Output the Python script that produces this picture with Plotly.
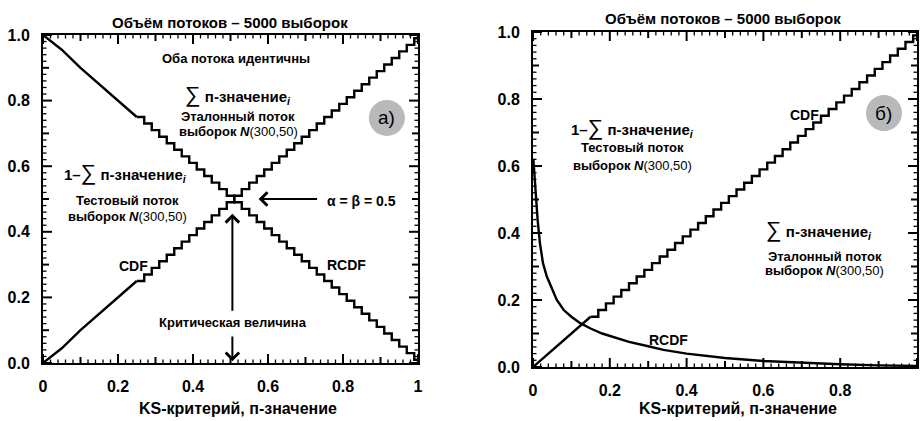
import plotly.graph_objects as go

# ---------------- data ----------------
cdf_a_smooth_x = [0.0, 0.05, 0.10, 0.15, 0.20, 0.25]
cdf_a_smooth_y = [0.0, 0.045, 0.10, 0.15, 0.20, 0.25]
cdf_a_step_x = [0.25, 0.27, 0.29, 0.31, 0.33, 0.35, 0.37, 0.39, 0.41, 0.43, 0.45, 0.47, 0.49,
                0.51, 0.53, 0.55, 0.57, 0.59, 0.61, 0.63, 0.65, 0.67, 0.69, 0.71, 0.73, 0.75,
                0.77, 0.79, 0.81, 0.83, 0.85, 0.87, 0.89, 0.91, 0.93, 0.95, 0.97, 0.99, 1.0]
cdf_a_step_y = [0.25, 0.27, 0.29, 0.31, 0.33, 0.35, 0.37, 0.39, 0.41, 0.43, 0.45, 0.47, 0.49,
                0.51, 0.53, 0.55, 0.57, 0.59, 0.61, 0.63, 0.65, 0.67, 0.69, 0.71, 0.73, 0.75,
                0.77, 0.79, 0.81, 0.83, 0.85, 0.87, 0.89, 0.91, 0.93, 0.95, 0.97, 0.99, 1.0]
rcdf_a_smooth_x = [0.0, 0.05, 0.10, 0.15, 0.20, 0.25]
rcdf_a_smooth_y = [1.0, 0.955, 0.90, 0.85, 0.80, 0.75]
rcdf_a_step_x = [0.25, 0.27, 0.29, 0.31, 0.33, 0.35, 0.37, 0.39, 0.41, 0.43, 0.45, 0.47, 0.49,
                 0.51, 0.53, 0.55, 0.57, 0.59, 0.61, 0.63, 0.65, 0.67, 0.69, 0.71, 0.73, 0.75,
                 0.77, 0.79, 0.81, 0.83, 0.85, 0.87, 0.89, 0.91, 0.93, 0.95, 0.97, 0.99, 1.0]
rcdf_a_step_y = [0.75, 0.73, 0.71, 0.69, 0.67, 0.65, 0.63, 0.61, 0.59, 0.57, 0.55, 0.53, 0.51,
                 0.49, 0.47, 0.45, 0.43, 0.41, 0.39, 0.37, 0.35, 0.33, 0.31, 0.29, 0.27, 0.25,
                 0.23, 0.21, 0.19, 0.17, 0.15, 0.13, 0.11, 0.09, 0.07, 0.05, 0.03, 0.01, 0.0]
cdf_b_smooth_x = [0.0, 0.05, 0.10, 0.15]
cdf_b_smooth_y = [0.0, 0.05, 0.10, 0.15]
cdf_b_step_x = [0.15, 0.17, 0.19, 0.21, 0.23, 0.25, 0.27, 0.29, 0.31, 0.33, 0.35, 0.37, 0.39,
                0.41, 0.43, 0.45, 0.47, 0.49, 0.51, 0.53, 0.55, 0.57, 0.59, 0.61, 0.63, 0.65,
                0.67, 0.69, 0.71, 0.73, 0.75, 0.77, 0.79, 0.81, 0.83, 0.85, 0.87, 0.89, 0.91,
                0.93, 0.95, 0.97, 0.99, 1.0]
cdf_b_step_y = [0.15, 0.17, 0.19, 0.21, 0.23, 0.25, 0.27, 0.29, 0.31, 0.33, 0.35, 0.37, 0.39,
                0.41, 0.43, 0.45, 0.47, 0.49, 0.51, 0.53, 0.55, 0.57, 0.59, 0.61, 0.63, 0.65,
                0.67, 0.69, 0.71, 0.73, 0.75, 0.77, 0.79, 0.81, 0.83, 0.85, 0.87, 0.89, 0.91,
                0.93, 0.95, 0.97, 0.99, 1.0]
rcdf_b_x = [0.001, 0.004, 0.008, 0.012, 0.018, 0.026, 0.036, 0.05, 0.062, 0.08, 0.10, 0.123,
            0.15, 0.18, 0.21, 0.25, 0.30, 0.34, 0.40, 0.45, 0.50, 0.60, 0.70, 0.80, 0.90, 1.0]
rcdf_b_y = [0.62, 0.56, 0.50, 0.44, 0.37, 0.31, 0.27, 0.23, 0.20, 0.17, 0.15, 0.131,
            0.115, 0.10, 0.09, 0.075, 0.062, 0.051, 0.040, 0.033, 0.027, 0.018, 0.012, 0.008,
            0.005, 0.003]

x_tick_vals = [0, 0.2, 0.4, 0.6, 0.8, 1.0]
x_tick_text = ["0", "0.2", "0.4", "0.6", "0.8", "1"]
y_tick_vals = [0, 0.2, 0.4, 0.6, 0.8, 1.0]
y_tick_text = ["0.0", "0.2", "0.4", "0.6", "0.8", "1.0"]

panel_title = "Объём потоков – 5000 выборок"
x_title = "KS-критерий, п-значение"

# ---------------- figure ----------------
FONT = "Liberation Sans, Arial, Helvetica, sans-serif"
LW = 2.4
fig = go.Figure()

def line(x, y, xa, ya, shape="linear", width=LW):
    fig.add_trace(go.Scatter(x=x, y=y, mode="lines", xaxis=xa, yaxis=ya,
                             line=dict(color="black", width=width, shape=shape),
                             showlegend=False, hoverinfo="skip", connectgaps=False))

line(cdf_a_smooth_x, cdf_a_smooth_y, "x", "y")
line(cdf_a_step_x, cdf_a_step_y, "x", "y", "hv")
line(rcdf_a_smooth_x, rcdf_a_smooth_y, "x", "y")
line(rcdf_a_step_x, rcdf_a_step_y, "x", "y", "hv")
line(cdf_b_smooth_x, cdf_b_smooth_y, "x2", "y2")
line(cdf_b_step_x, cdf_b_step_y, "x2", "y2", "hv")
line(rcdf_b_x, rcdf_b_y, "x2", "y2")

# panel geometry in pixels
PA = dict(x0=43, x1=418, ytop=35, ybot=363)
PB = dict(x0=533, x1=917, ytop=32, ybot=367)
xdom_a = [PA["x0"] / 920, PA["x1"] / 920]
ydom_a = [1 - PA["ybot"] / 421, 1 - PA["ytop"] / 421]
xdom_b = [PB["x0"] / 920, PB["x1"] / 920]
ydom_b = [1 - PB["ybot"] / 421, 1 - PB["ytop"] / 421]

# ---- tick marks (inside, all four sides) drawn as line segments ----
tick_positions = [i / 50 for i in range(51)]

def tick_len(i):
    if i % 10 == 0:
        return 9
    if i % 5 == 0:
        return 6
    return 3.5

def add_ticks(P, xa, ya):
    xpx = P["x1"] - P["x0"]
    ypx = P["ybot"] - P["ytop"]
    for major in (True, False):
        xs, ys = [], []
        for i, v in enumerate(tick_positions):
            is_major = (i % 5 == 0)
            if is_major != major:
                continue
            L = tick_len(i)
            dy = L / ypx
            dx = L / xpx
            xs += [v, v, None, v, v, None, 0, dx, None, 1 - dx, 1, None]
            ys += [0, dy, None, 1 - dy, 1, None, v, v, None, v, v, None]
        line(xs, ys, xa, ya, width=2 if major else 1.3)

add_ticks(PA, "x", "y")
add_ticks(PB, "x2", "y2")

def main_axis(dom, anchor, vals, text, standoff):
    return dict(domain=dom, anchor=anchor, range=[0, 1], showgrid=False, zeroline=False,
                automargin=False, showline=True, linecolor="black", linewidth=2,
                mirror=True, ticks="", tickvals=vals, ticktext=text,
                ticklabelstandoff=standoff,
                tickfont=dict(family=FONT, size=16, color="black", weight="bold"),
                fixedrange=True)

fig.update_layout(
    width=920, height=421, margin=dict(l=0, r=0, t=0, b=0),
    paper_bgcolor="white", plot_bgcolor="white", showlegend=False,
    xaxis=main_axis(xdom_a, "y", x_tick_vals, x_tick_text, 8),
    yaxis=main_axis(ydom_a, "x", y_tick_vals, y_tick_text, 8),
    xaxis2=main_axis(xdom_b, "y2", x_tick_vals, x_tick_text, 8),
    yaxis2=main_axis(ydom_b, "x2", y_tick_vals, y_tick_text, 8),
)

shapes = []
for xr, yr, cx, cy in [("x", "y", 0.917, 0.747), ("x2", "y2", 0.914, 0.758)]:
    shapes.append(dict(type="circle", xref=xr, yref=yr, xsizemode="pixel", ysizemode="pixel",
                       xanchor=cx, yanchor=cy, x0=-18, x1=18, y0=-18, y1=18,
                       fillcolor="#b9b9b9", line=dict(width=0), layer="below"))

ann = []
def txt(x, y, text, size=13, xref="x", yref="y", bold=True, xanchor="center"):
    ann.append(dict(x=x, y=y, xref=xref, yref=yref, text=text, showarrow=False,
                    xanchor=xanchor, yanchor="middle",
                    font=dict(family=FONT, size=size, color="black",
                              weight="bold" if bold else "normal")))

SIG = "<span style='font-size:22px;font-weight:normal'>∑</span>"
SUB = "<sub><i>i</i></sub>"
NN = "<i>N</i><span style='font-weight:normal'>(300,50)</span>"

txt(0.25, 1 - 23 / 421, panel_title, 15, "paper", "paper")
txt(0.786, 1 - 18 / 421, panel_title, 15, "paper", "paper")
txt(0.259, 1 - 408 / 421, x_title, 16, "paper", "paper")
txt(0.802, 1 - 408 / 421, x_title, 16, "paper", "paper")

txt(0.515, 0.927, "Оба потока идентичны", 13)
txt(0.52, 0.82, SIG + " п-значение" + SUB, 15)
txt(0.52, 0.752, "Эталонный поток", 13)
txt(0.52, 0.707, "выборок " + NN, 13)
txt(0.22, 0.58, "1–" + SIG + " п-значение" + SUB, 15)
txt(0.225, 0.494, "Тестовый поток", 13)
txt(0.225, 0.448, "выборок " + NN, 13)
txt(0.85, 0.494, "α = β = 0.5", 14)
txt(0.24, 0.296, "CDF", 14)
txt(0.81, 0.30, "RCDF", 14)
txt(0.507, 0.122, "Критическая величина", 13)
txt(0.917, 0.747, "а)", 19, bold=False)

txt(0.26, 0.715, "1–" + SIG + " п-значение" + SUB, 15, "x2", "y2")
txt(0.26, 0.654, "Тестовый поток", 13, "x2", "y2")
txt(0.26, 0.603, "выборок " + NN, 13, "x2", "y2")
txt(0.706, 0.752, "CDF", 14, "x2", "y2")
txt(0.746, 0.41, SIG + " п-значение" + SUB, 15, "x2", "y2")
txt(0.76, 0.331, "Эталонный поток", 13, "x2", "y2")
txt(0.76, 0.287, "выборок " + NN, 13, "x2", "y2")
txt(0.353, 0.08, "RCDF", 14, "x2", "y2")
txt(0.914, 0.758, "б)", 19, "x2", "y2", bold=False)

def arrow(x, y, ax, ay):
    ann.append(dict(x=x, y=y, ax=ax, ay=ay, xref="x", yref="y", axref="x", ayref="y",
                    text="", showarrow=True, arrowhead=4, arrowsize=1.3, arrowwidth=2,
                    arrowcolor="black"))

arrow(0.575, 0.5, 0.735, 0.5)
arrow(0.505, 0.455, 0.505, 0.155)
arrow(0.505, 0.005, 0.505, 0.085)

fig.update_layout(annotations=ann, shapes=shapes)

fig.write_html("out.html")
